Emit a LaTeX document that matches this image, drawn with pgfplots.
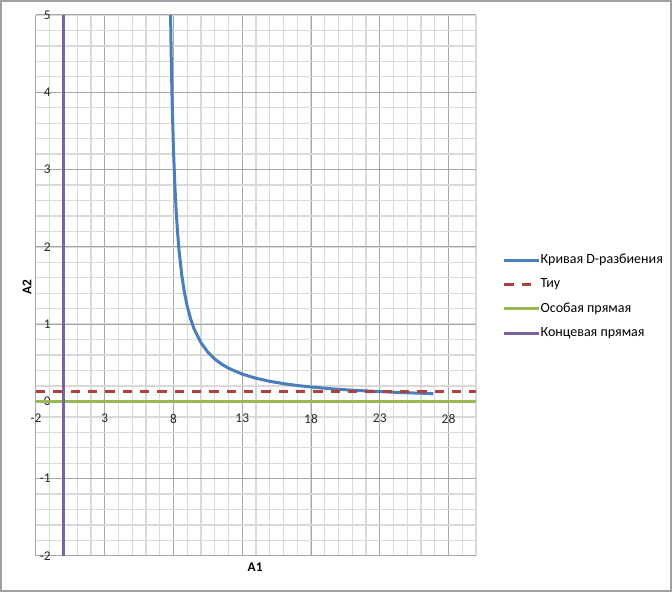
\documentclass[border=0pt]{standalone}
\usepackage{fontspec}
\setmainfont{Carlito}
\usepackage{pgfplots}
\pgfplotsset{compat=1.18}

\definecolor{curveblue}{HTML}{4A7EBB}
\definecolor{tiured}{HTML}{B0403D}
\definecolor{specgreen}{HTML}{98B954}
\definecolor{endpurple}{HTML}{7D60A0}
\definecolor{majgrid}{HTML}{A6A6A6}
\definecolor{mingrid}{HTML}{D9D9D9}
\definecolor{chartframe}{HTML}{A0A0A0}

\begin{document}
\begin{tikzpicture}[x=1pt,y=1pt]
\useasboundingbox (0,0) rectangle (504,444);
\draw[chartframe, line width=1.5pt] (0.75,0.75) rectangle (503.25,443.25);
\begin{axis}[
  at={(27pt,27pt)}, anchor=south west,
  scale only axis, width=330pt, height=405.75pt,
  xmin=-2, xmax=30, ymin=-2, ymax=5,
  axis lines=middle, axis line style={draw=none},
  tick style={draw=none},
  hide obscured x ticks=false, hide obscured y ticks=false,
  xtick={-2,3,8,13,18,23,28},
  xticklabels={-2,3,8,13,18,23,28},
  ytick={-2,-1,0,1,2,3,4,5},
  yticklabels={-2,-1,0,1,2,3,4,5},
  minor xtick={-1,0,...,30},
  minor ytick={-1.8,-1.6,...,4.9},
  grid=both,
  major grid style={majgrid, line width=0.75pt},
  minor grid style={mingrid, line width=1pt},
  ticklabel style={font=\fontsize{10}{12}\selectfont, text=black!85},
  xticklabel style={anchor=north, yshift=-4pt},
  yticklabel style={anchor=east, xshift=-4pt},
  xlabel={A1}, ylabel={A2},
  xlabel style={at={(rel axis cs:0.498,-0.02)}, anchor=center, font=\fontsize{10}{12}\selectfont\bfseries},
  ylabel style={at={(rel axis cs:-0.0205,0.497)}, anchor=center, rotate=90, font=\fontsize{10}{12}\selectfont\bfseries},
  legend image code/.code={\draw[#1] (0pt,0pt) -- (26pt,0pt);},
  legend style={
    at={(rel axis cs:1.0606,0.558)}, anchor=north west,
    draw=none, fill=none, inner sep=0pt,
    font=\fontsize{10.5}{12}\selectfont,
    nodes={inner sep=0pt, text height=7pt, text depth=2pt},
    row sep=9.2pt,
    /tikz/every even column/.append style={column sep=2.5pt},
  },
  legend cell align=left,
]
% D-partition curve
\addplot[curveblue, line width=2.25pt] coordinates {
  (7.786,5.000) (7.85,4.304) (7.90,3.882) (8.00,3.246) (8.10,2.789)
  (8.20,2.444) (8.30,2.176) (8.40,1.960) (8.60,1.636) (8.80,1.404)
  (9.00,1.230) (9.25,1.065) (9.50,0.938) (10.0,0.759) (10.5,0.637)
  (11.0,0.548) (11.5,0.482) (12.0,0.430) (13.0,0.353) (14.0,0.300)
  (15.0,0.260) (16.0,0.230) (17.0,0.206) (18.0,0.187) (19.0,0.171)
  (20.0,0.157) (21.0,0.145) (22.0,0.136) (23.0,0.127) (24.0,0.119)
  (25.0,0.112) (26.0,0.106) (26.9,0.101)
};
\addlegendentry{Кривая D-разбиения}
% Tiu level
\addplot[tiured, line width=2.25pt, dash pattern=on 7pt off 6pt] coordinates {(-2,0.13) (30,0.13)};
\addlegendentry{Тиу}
% singular line
\addplot[specgreen, line width=2.25pt] coordinates {(-2,0) (30,0)};
\addlegendentry{Особая прямая}
% end line
\addplot[endpurple, line width=2.25pt] coordinates {(0,-2) (0,5)};
\addlegendentry{Концевая прямая}
\end{axis}
\end{tikzpicture}
\end{document}
